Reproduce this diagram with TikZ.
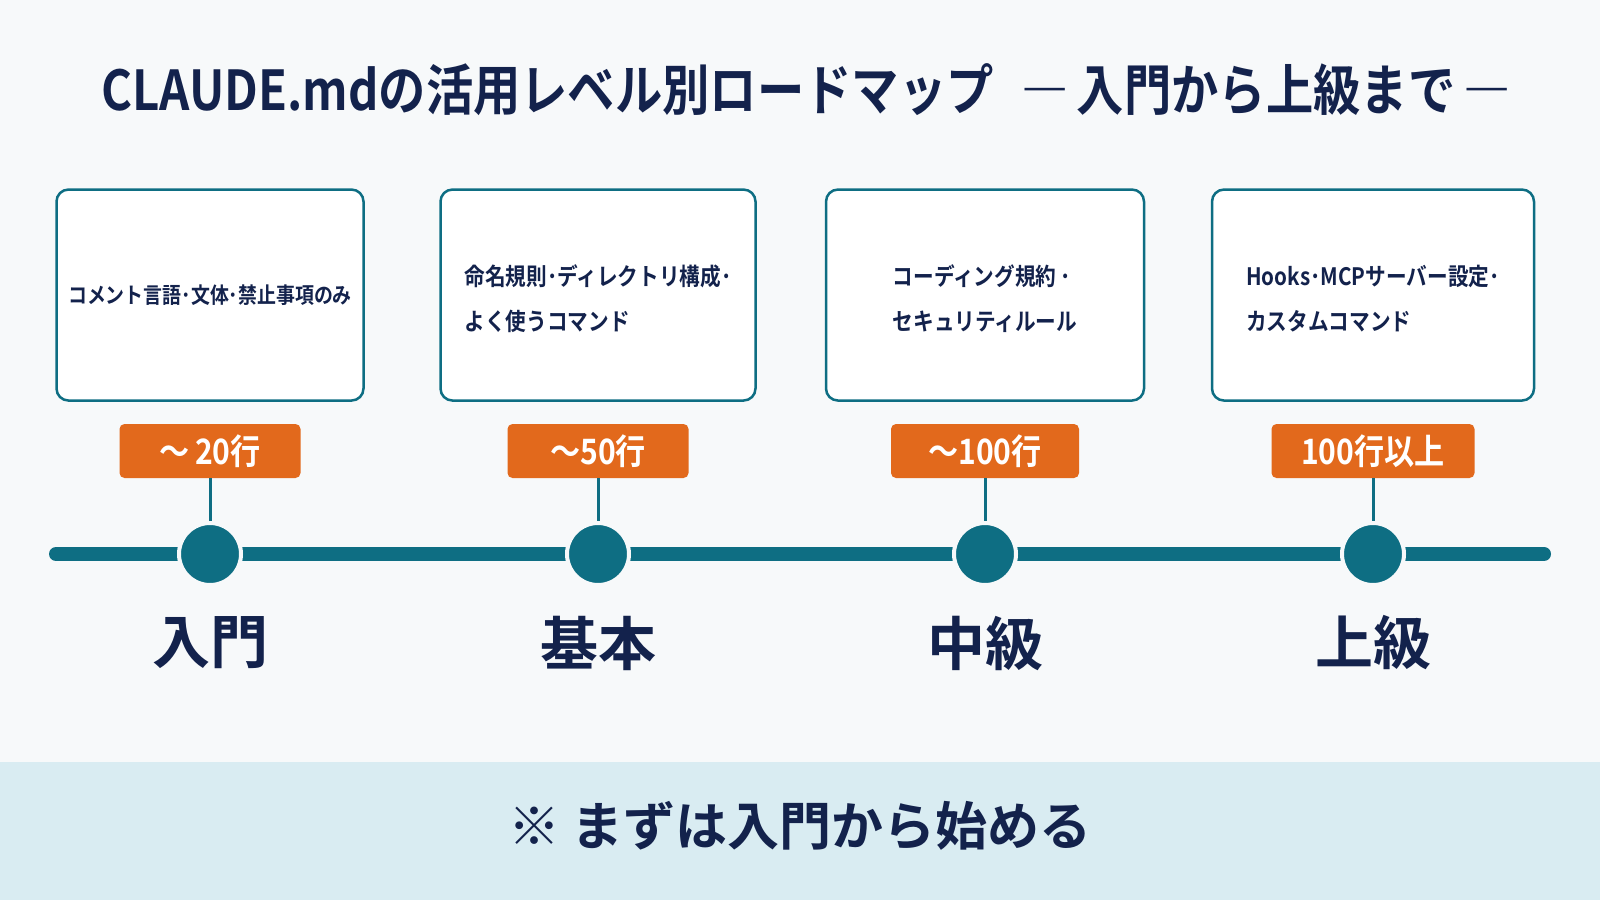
\documentclass[tikz,border=0pt]{standalone}
\usepackage{fontspec}
\setmainfont{Noto Sans CJK JP}[BoldFont={Noto Sans CJK JP Bold}]
\newfontfamily\narrowfont{Noto Sans CJK JP Bold}[FakeStretch=0.86]
\usetikzlibrary{positioning}
\definecolor{navy}{HTML}{13224C}
\definecolor{roadteal}{HTML}{0E6E83}
\definecolor{tagorange}{HTML}{E2691C}
\definecolor{bandblue}{HTML}{D9ECF2}
\definecolor{bgpaper}{HTML}{F7F9FA}

\begin{document}
\begin{tikzpicture}[
    x=1pt, y=-1pt,
    node distance=22pt,
    levelbox/.style={rectangle, draw=roadteal, line width=2.5pt, rounded corners=12pt, fill=white, align=left, minimum height=211pt, text=navy, font=\narrowfont\fontsize{24}{45}\selectfont},
    tag/.style={rectangle, rounded corners=5pt, fill=tagorange, text=white, minimum height=54pt, minimum width=181pt, font=\narrowfont\fontsize{35}{36}\selectfont},
    dot/.style={circle, fill=roadteal, draw=bgpaper, line width=4pt, minimum size=62pt, inner sep=0pt},
    stem/.style={draw=roadteal, line width=3pt},
    rail/.style={draw=roadteal, line width=14pt, line cap=round},
    level/.style={text=navy, font=\bfseries\fontsize{58}{60}\selectfont}
]
\useasboundingbox (0,0) rectangle (1600,900);
\fill[bgpaper] (0,0) rectangle (1600,900);
\fill[bandblue] (0,762) rectangle (1600,900);

\node[text=navy, font=\narrowfont\fontsize{55}{57}\selectfont] (title) at (806,90) {CLAUDE.mdの活用レベル別ロードマップ\hspace{28pt}―\hspace{8pt}入門から上級まで\hspace{8pt}―};

% timeline
\coordinate (lstart) at (56,554);
\coordinate (lend) at (1544,554);
\draw[rail] (lstart) -- (lend);

% tags
\node[tag] (t1) at (210,451) {～\,20行};
\node[tag] (t2) at (598,451) {～50行};
\node[tag, minimum width=188pt] (t3) at (985,451) {～100行};
\node[tag, minimum width=203pt] (t4) at (1373,451) {100行以上};

% boxes
\node[levelbox, minimum width=307pt, font=\narrowfont\fontsize{22}{45}\selectfont, above=of t1] (b1) {コメント言語･文体･禁止事項のみ};
\node[levelbox, minimum width=315pt, above=of t2] (b2) {\rule{0pt}{28pt}命名規則･ディレクトリ構成･\\よく使うコマンド};
\node[levelbox, minimum width=318pt, above=of t3] (b3) {\rule{0pt}{28pt}コーディング規約\,･\\セキュリティルール};
\node[levelbox, minimum width=322pt, above=of t4] (b4) {\rule{0pt}{28pt}Hooks･MCPサーバー設定･\\カスタムコマンド};

% dots
\node[dot] (d1) at (210,554) {};
\node[dot] (d2) at (598,554) {};
\node[dot] (d3) at (985,554) {};
\node[dot] (d4) at (1373,554) {};

\draw[stem] (t1) -- (d1);
\draw[stem] (t2) -- (d2);
\draw[stem] (t3) -- (d3);
\draw[stem] (t4) -- (d4);

% levels
\node[level] (l1) at (210,643) {入門};
\node[level] (l2) at (598,643) {基本};
\node[level] (l3) at (985,643) {中級};
\node[level] (l4) at (1373,643) {上級};

\node[text=navy, font=\bfseries\fontsize{52}{54}\selectfont] (note) at (800,826) {※ まずは入門から始める};
\end{tikzpicture}
\end{document}
